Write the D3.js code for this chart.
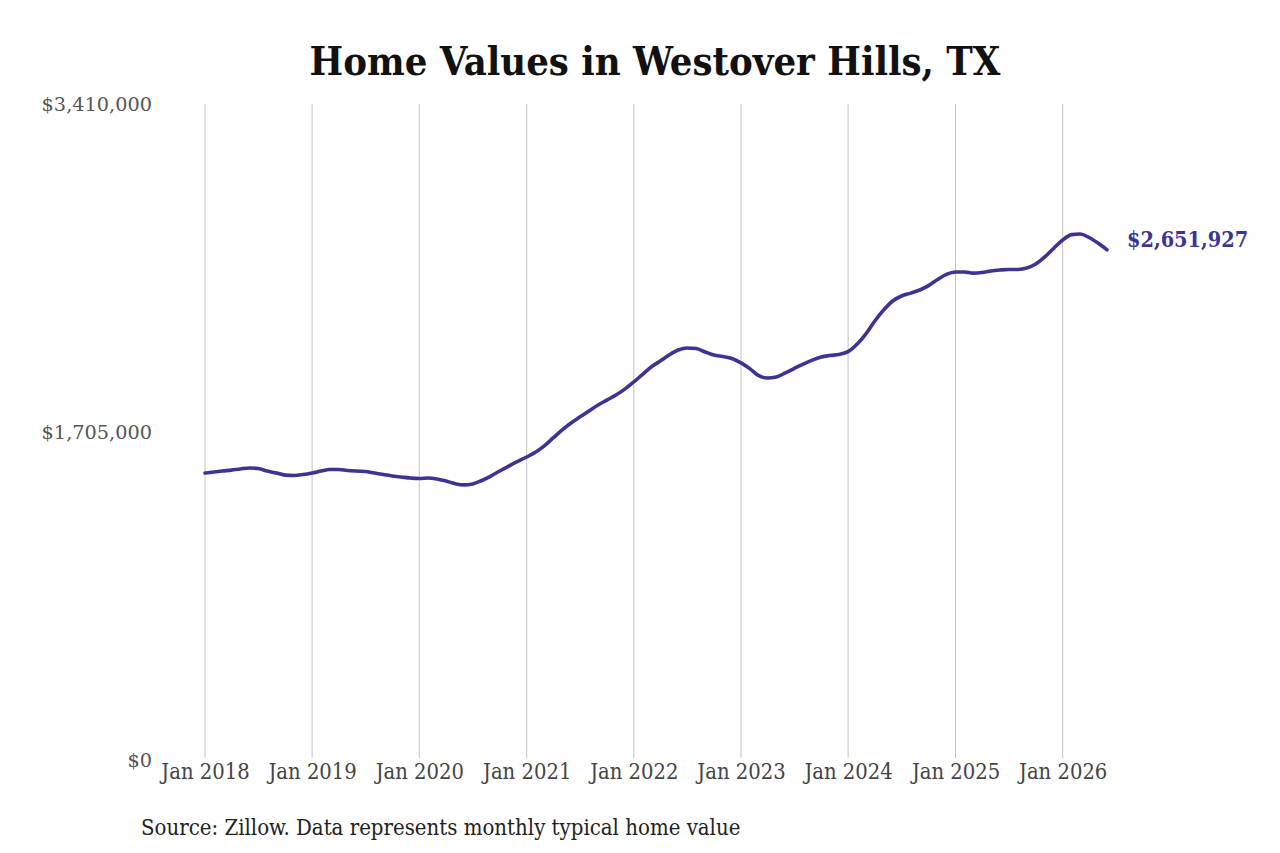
<!DOCTYPE html>
<html>
<head>
<meta charset="utf-8">
<script src="https://cdn.jsdelivr.net/npm/d3@7"></script>
<style>
  html, body { margin: 0; padding: 0; background: #fff; }
  svg { display: block; }
  .title { font-family: "DejaVu Serif Condensed", "DejaVu Serif", serif; font-weight: bold; font-size: 39.6px; fill: #111; }
  .y-label { font-family: "DejaVu Serif", serif; font-size: 19.3px; fill: #555; }
  .x-label { font-family: "DejaVu Serif Condensed", "DejaVu Serif", serif; font-size: 21.8px; fill: #444; }
  .source { font-family: "DejaVu Serif Condensed", "DejaVu Serif", serif; font-size: 22px; fill: #222; }
  .end-label { font-family: "DejaVu Serif Condensed", "DejaVu Serif", serif; font-weight: bold; font-size: 21.5px; fill: #3b3494; }
</style>
</head>
<body>
<div id="chart"></div>
<script>
// ── DATA ─────────────────────────────────────────────────────────────────────
// Monthly typical home value, Jan 2018 – Jun 2026 (thousands of dollars)
const startYear = 2018;
const values = [
  // 2018
  1492, 1497, 1502, 1507, 1513, 1518, 1515, 1502, 1492, 1481, 1479, 1484,
  // 2019
  1492, 1502, 1510, 1510, 1505, 1502, 1500, 1492, 1484, 1476, 1471, 1466,
  // 2020
  1463, 1466, 1461, 1450, 1437, 1430, 1435, 1453, 1476, 1502, 1528, 1552,
  // 2021
  1575, 1601, 1632, 1674, 1715, 1752, 1783, 1814, 1845, 1871, 1897, 1928,
  // 2022
  1965, 2006, 2043, 2074, 2105, 2131, 2142, 2139, 2121, 2105, 2097, 2087,
  // 2023
  2064, 2033, 1999, 1986, 1991, 2012, 2035, 2058, 2079, 2095, 2103, 2108,
  // 2024
  2123, 2162, 2214, 2282, 2339, 2386, 2412, 2427, 2443, 2466, 2498, 2524,
  // 2025
  2537, 2537, 2531, 2534, 2542, 2547, 2550, 2550, 2557, 2578, 2615, 2659,
  // 2026
  2703, 2731, 2734, 2716, 2687, 2651.927
];
const yTicks = [0, 1705000, 3410000];
const xTickYears = [2018, 2019, 2020, 2021, 2022, 2023, 2024, 2025, 2026];
const titleText = 'Home Values in Westover Hills, TX';
const sourceText = 'Source: Zillow. Data represents monthly typical home value';

const data = values.map((v, i) => ({
  date: new Date(startYear + Math.floor(i / 12), i % 12, 1),
  value: v * 1000
}));

// ── DIMENSIONS ───────────────────────────────────────────────────────────────
const W = 1280, H = 853;
const margin = { top: 104, right: 1280 - 1107, bottom: 853 - 760, left: 205 };

const svg = d3.select('#chart').append('svg')
  .attr('width', W)
  .attr('height', H);

// ── SCALES ───────────────────────────────────────────────────────────────────
const xScale = d3.scaleTime()
  .domain([new Date(2018, 0, 1), new Date(2026, 5, 1)])
  .range([margin.left, W - margin.right]);

const yScale = d3.scaleLinear()
  .domain([0, 3410000])
  .range([H - margin.bottom, margin.top]);

// ── TITLE ────────────────────────────────────────────────────────────────────
svg.append('text')
  .attr('class', 'title')
  .attr('x', 655)
  .attr('y', 75)
  .attr('text-anchor', 'middle')
  .text(titleText);

// ── GRIDLINES (vertical, at each January) ────────────────────────────────────
svg.append('g')
  .selectAll('line')
  .data(xTickYears)
  .join('line')
    .attr('x1', d => xScale(new Date(d, 0, 1)))
    .attr('x2', d => xScale(new Date(d, 0, 1)))
    .attr('y1', yScale(3410000))
    .attr('y2', yScale(0) - 2)
    .attr('stroke', '#c4c4c4')
    .attr('stroke-width', 1);

// ── AXES ─────────────────────────────────────────────────────────────────────
const xAxis = svg.append('g')
  .attr('transform', `translate(0,${yScale(0)})`)
  .call(d3.axisBottom(xScale)
    .tickValues(xTickYears.map(y => new Date(y, 0, 1)))
    .tickFormat(d => 'Jan ' + d.getFullYear())
    .tickSize(0)
    .tickPadding(4));
xAxis.select('.domain').remove();
xAxis.selectAll('text').attr('class', 'x-label').attr('fill', null);

const yAxis = svg.append('g')
  .attr('transform', 'translate(152,0)')
  .call(d3.axisLeft(yScale)
    .tickValues(yTicks)
    .tickFormat(d => '$' + d3.format(',')(d))
    .tickSize(0)
    .tickPadding(0));
yAxis.select('.domain').remove();
yAxis.selectAll('text').attr('class', 'y-label').attr('fill', null);

// ── LINE ─────────────────────────────────────────────────────────────────────
const line = d3.line()
  .x(d => xScale(d.date))
  .y(d => yScale(d.value))
  .curve(d3.curveMonotoneX);

svg.append('path')
  .datum(data)
  .attr('fill', 'none')
  .attr('stroke', '#3b3494')
  .attr('stroke-width', 3.6)
  .attr('stroke-linejoin', 'round')
  .attr('stroke-linecap', 'round')
  .attr('d', line);

// ── END LABEL ────────────────────────────────────────────────────────────────
const last = data[data.length - 1];
svg.append('text')
  .attr('class', 'end-label')
  .attr('x', xScale(last.date) + 20)
  .attr('y', yScale(last.value) - 10)
  .attr('dy', '0.35em')
  .text('$' + d3.format(',')(Math.round(last.value)));

// ── SOURCE ───────────────────────────────────────────────────────────────────
svg.append('text')
  .attr('class', 'source')
  .attr('x', 141)
  .attr('y', 835)
  .text(sourceText);
</script>
</body>
</html>
